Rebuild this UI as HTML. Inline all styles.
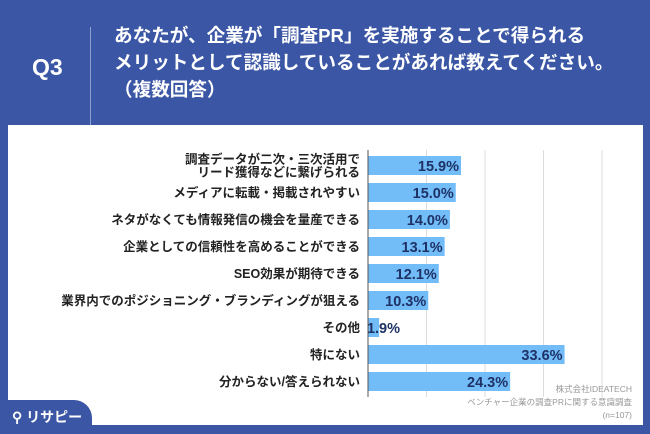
<!DOCTYPE html>
<html><head><meta charset="utf-8"><style>
body{margin:0;width:650px;height:434px;overflow:hidden;background:#3a56a5;font-family:"Liberation Sans","Noto Sans CJK JP",sans-serif;position:relative}
.t{position:absolute;color:#fff;font-weight:bold}
</style></head><body>
<div class="t" style="left:32px;top:54px;font-size:23px">Q3</div>
<div style="position:absolute;left:90px;top:27px;width:1px;height:105px;background:#8fa0d0"></div>
<div class="t" style="left:114px;top:22px;font-size:18.6px;line-height:27px">あなたが、企業が「調査PR」を実施することで得られる<br>メリットとして認識していることがあれば教えてください。<br>（複数回答）</div>
<div style="position:absolute;left:8px;top:125px;width:635px;height:300px;background:#fff"></div>
<div style="position:absolute;left:0;top:400px;width:92px;height:34px;background:#3a56a5;border-top-right-radius:18px"></div>
<div class="t" style="left:12px;top:407px;font-size:14px">⚲ リサピー</div>
<svg id="c" width="650" height="434" style="position:absolute;left:0;top:0"></svg>
<script>
const categories=["調査データが二次・三次活用で\nリード獲得などに繋げられる","メディアに転載・掲載されやすい","ネタがなくても情報発信の機会を量産できる","企業としての信頼性を高めることができる","SEO効果が期待できる","業界内でのポジショニング・ブランディングが狙える","その他","特にない","分からない/答えられない"];
const values=[15.9,15.0,14.0,13.1,12.1,10.3,1.9,33.6,24.3];
const gridTicks=[0,10,20,30,40];
const NS="http://www.w3.org/2000/svg",svg=document.getElementById('c');
const x=v=>368+v*5.85, y=i=>165.5+i*27;
function mk(t,a){const e=document.createElementNS(NS,t);for(const k in a)e.setAttribute(k,a[k]);svg.appendChild(e);return e;}
gridTicks.forEach(t=>{if(t===0)return;const l=mk('line',{x1:x(t),x2:x(t),y1:150,y2:397,stroke:'#dcdcdc','stroke-width':1});

});
values.forEach((v,i)=>{
const r=mk('rect',{x:x(0),y:y(i)-9.5,width:x(v)-x(0),height:19,fill:'#72bcf8'});


const tx=mk('text',{x:Math.max(x(v)-2,x(0)+32),y:y(i)+5.5,'text-anchor':'end','font-size':14.5,'font-weight':'bold',fill:'#1e3266'});
tx.textContent=v.toFixed(1)+'%';


const lines=categories[i].split('\n');
lines.forEach((s,j)=>{const c=mk('text',{x:360,y:y(i)+4.5+(j-(lines.length-1)/2)*13,'text-anchor':'end','font-size':12.5,'font-weight':'bold',fill:'#222'});
c.textContent=s;

});
});
const ax=mk('line',{x1:368,x2:368,y1:150,y2:397,stroke:'#555','stroke-width':1});


[["株式会社IDEATECH",392],["ベンチャー企業の調査PRに関する意識調査",405],["(n=107)",418]].forEach(s=>{const t=mk('text',{x:632,y:s[1],'text-anchor':'end','font-size':8.5,fill:'#999'});
t.textContent=s[0];

});
</script>
</body></html>
